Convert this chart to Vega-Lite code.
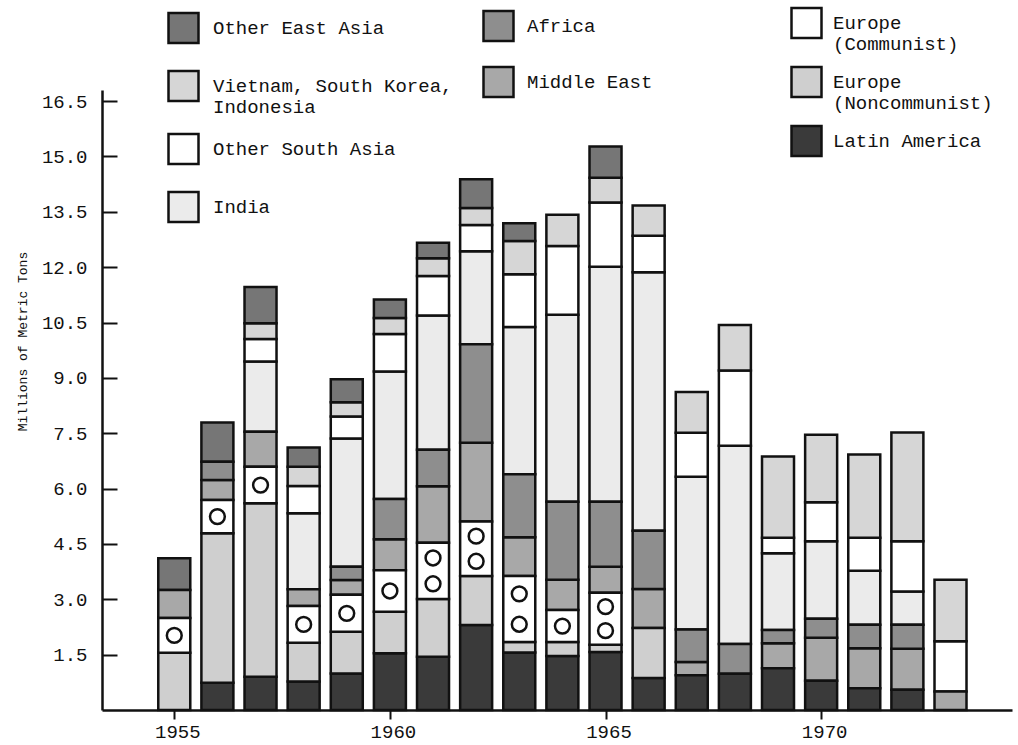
{
  "$schema": "https://vega.github.io/schema/vega-lite/v6.json",
  "width": 910,
  "height": 620,
  "autosize": {"type": "none"},
  "padding": {"left": 102, "top": 90, "right": 6, "bottom": 35},
  "background": "white",
  "config": {
    "view": {"stroke": null},
    "font": "Liberation Mono",
    "axis": {"grid": false, "domainColor": "#111", "domainWidth": 2.5, "tickColor": "#111", "tickWidth": 2, "labelFont": "Liberation Mono", "labelFontSize": 19, "labelColor": "#111", "titleFont": "Liberation Mono", "titleFontWeight": "normal", "titleColor": "#111"},
    "legend": {"labelFont": "Liberation Mono", "labelFontSize": 19, "labelColor": "#111", "labelLimit": 400}
  },
  "data": {"values": [
    {"year": 1955, "region": "Europe (Noncommunist)", "value": 1.55},
    {"year": 1955, "region": "Europe (Communist)", "value": 0.94},
    {"year": 1955, "region": "Middle East", "value": 0.76},
    {"year": 1955, "region": "Other East Asia", "value": 0.86},
    {"year": 1956, "region": "Latin America", "value": 0.74},
    {"year": 1956, "region": "Europe (Noncommunist)", "value": 4.05},
    {"year": 1956, "region": "Europe (Communist)", "value": 0.90},
    {"year": 1956, "region": "Middle East", "value": 0.54},
    {"year": 1956, "region": "Africa", "value": 0.50},
    {"year": 1956, "region": "Other East Asia", "value": 1.06},
    {"year": 1957, "region": "Latin America", "value": 0.90},
    {"year": 1957, "region": "Europe (Noncommunist)", "value": 4.70},
    {"year": 1957, "region": "Europe (Communist)", "value": 0.99},
    {"year": 1957, "region": "Middle East", "value": 0.95},
    {"year": 1957, "region": "India", "value": 1.90},
    {"year": 1957, "region": "Other South Asia", "value": 0.61},
    {"year": 1957, "region": "Vietnam, South Korea, Indonesia", "value": 0.43},
    {"year": 1957, "region": "Other East Asia", "value": 0.98},
    {"year": 1958, "region": "Latin America", "value": 0.77},
    {"year": 1958, "region": "Europe (Noncommunist)", "value": 1.05},
    {"year": 1958, "region": "Europe (Communist)", "value": 1.00},
    {"year": 1958, "region": "Middle East", "value": 0.45},
    {"year": 1958, "region": "India", "value": 2.06},
    {"year": 1958, "region": "Other South Asia", "value": 0.74},
    {"year": 1958, "region": "Vietnam, South Korea, Indonesia", "value": 0.52},
    {"year": 1958, "region": "Other East Asia", "value": 0.52},
    {"year": 1959, "region": "Latin America", "value": 0.99},
    {"year": 1959, "region": "Europe (Noncommunist)", "value": 1.13},
    {"year": 1959, "region": "Europe (Communist)", "value": 1.00},
    {"year": 1959, "region": "Middle East", "value": 0.40},
    {"year": 1959, "region": "Africa", "value": 0.36},
    {"year": 1959, "region": "India", "value": 3.48},
    {"year": 1959, "region": "Other South Asia", "value": 0.59},
    {"year": 1959, "region": "Vietnam, South Korea, Indonesia", "value": 0.39},
    {"year": 1959, "region": "Other East Asia", "value": 0.62},
    {"year": 1960, "region": "Latin America", "value": 1.54},
    {"year": 1960, "region": "Europe (Noncommunist)", "value": 1.12},
    {"year": 1960, "region": "Europe (Communist)", "value": 1.13},
    {"year": 1960, "region": "Middle East", "value": 0.84},
    {"year": 1960, "region": "Africa", "value": 1.09},
    {"year": 1960, "region": "India", "value": 3.45},
    {"year": 1960, "region": "Other South Asia", "value": 1.02},
    {"year": 1960, "region": "Vietnam, South Korea, Indonesia", "value": 0.43},
    {"year": 1960, "region": "Other East Asia", "value": 0.50},
    {"year": 1961, "region": "Latin America", "value": 1.44},
    {"year": 1961, "region": "Europe (Noncommunist)", "value": 1.57},
    {"year": 1961, "region": "Europe (Communist)", "value": 1.52},
    {"year": 1961, "region": "Middle East", "value": 1.53},
    {"year": 1961, "region": "Africa", "value": 0.99},
    {"year": 1961, "region": "India", "value": 3.64},
    {"year": 1961, "region": "Other South Asia", "value": 1.07},
    {"year": 1961, "region": "Vietnam, South Korea, Indonesia", "value": 0.48},
    {"year": 1961, "region": "Other East Asia", "value": 0.42},
    {"year": 1962, "region": "Latin America", "value": 2.30},
    {"year": 1962, "region": "Europe (Noncommunist)", "value": 1.33},
    {"year": 1962, "region": "Europe (Communist)", "value": 1.48},
    {"year": 1962, "region": "Middle East", "value": 2.13},
    {"year": 1962, "region": "Africa", "value": 2.67},
    {"year": 1962, "region": "India", "value": 2.52},
    {"year": 1962, "region": "Other South Asia", "value": 0.71},
    {"year": 1962, "region": "Vietnam, South Korea, Indonesia", "value": 0.46},
    {"year": 1962, "region": "Other East Asia", "value": 0.78},
    {"year": 1963, "region": "Latin America", "value": 1.56},
    {"year": 1963, "region": "Europe (Noncommunist)", "value": 0.28},
    {"year": 1963, "region": "Europe (Communist)", "value": 1.79},
    {"year": 1963, "region": "Middle East", "value": 1.05},
    {"year": 1963, "region": "Africa", "value": 1.71},
    {"year": 1963, "region": "India", "value": 3.99},
    {"year": 1963, "region": "Other South Asia", "value": 1.43},
    {"year": 1963, "region": "Vietnam, South Korea, Indonesia", "value": 0.90},
    {"year": 1963, "region": "Other East Asia", "value": 0.48},
    {"year": 1964, "region": "Latin America", "value": 1.46},
    {"year": 1964, "region": "Europe (Noncommunist)", "value": 0.38},
    {"year": 1964, "region": "Europe (Communist)", "value": 0.87},
    {"year": 1964, "region": "Middle East", "value": 0.82},
    {"year": 1964, "region": "Africa", "value": 2.11},
    {"year": 1964, "region": "India", "value": 5.07},
    {"year": 1964, "region": "Other South Asia", "value": 1.86},
    {"year": 1964, "region": "Vietnam, South Korea, Indonesia", "value": 0.85},
    {"year": 1965, "region": "Latin America", "value": 1.57},
    {"year": 1965, "region": "Europe (Noncommunist)", "value": 0.20},
    {"year": 1965, "region": "Europe (Communist)", "value": 1.41},
    {"year": 1965, "region": "Middle East", "value": 0.70},
    {"year": 1965, "region": "Africa", "value": 1.76},
    {"year": 1965, "region": "India", "value": 6.37},
    {"year": 1965, "region": "Other South Asia", "value": 1.74},
    {"year": 1965, "region": "Vietnam, South Korea, Indonesia", "value": 0.67},
    {"year": 1965, "region": "Other East Asia", "value": 0.85},
    {"year": 1966, "region": "Latin America", "value": 0.87},
    {"year": 1966, "region": "Europe (Noncommunist)", "value": 1.35},
    {"year": 1966, "region": "Middle East", "value": 1.06},
    {"year": 1966, "region": "Africa", "value": 1.58},
    {"year": 1966, "region": "India", "value": 7.00},
    {"year": 1966, "region": "Other South Asia", "value": 0.99},
    {"year": 1966, "region": "Vietnam, South Korea, Indonesia", "value": 0.82},
    {"year": 1967, "region": "Latin America", "value": 0.94},
    {"year": 1967, "region": "Middle East", "value": 0.36},
    {"year": 1967, "region": "Africa", "value": 0.88},
    {"year": 1967, "region": "India", "value": 4.14},
    {"year": 1967, "region": "Other South Asia", "value": 1.19},
    {"year": 1967, "region": "Vietnam, South Korea, Indonesia", "value": 1.11},
    {"year": 1968, "region": "Latin America", "value": 0.98},
    {"year": 1968, "region": "Africa", "value": 0.81},
    {"year": 1968, "region": "India", "value": 5.37},
    {"year": 1968, "region": "Other South Asia", "value": 2.04},
    {"year": 1968, "region": "Vietnam, South Korea, Indonesia", "value": 1.23},
    {"year": 1969, "region": "Latin America", "value": 1.13},
    {"year": 1969, "region": "Middle East", "value": 0.68},
    {"year": 1969, "region": "Africa", "value": 0.36},
    {"year": 1969, "region": "India", "value": 2.08},
    {"year": 1969, "region": "Other South Asia", "value": 0.42},
    {"year": 1969, "region": "Vietnam, South Korea, Indonesia", "value": 2.20},
    {"year": 1970, "region": "Latin America", "value": 0.79},
    {"year": 1970, "region": "Middle East", "value": 1.17},
    {"year": 1970, "region": "Africa", "value": 0.51},
    {"year": 1970, "region": "India", "value": 2.10},
    {"year": 1970, "region": "Other South Asia", "value": 1.06},
    {"year": 1970, "region": "Vietnam, South Korea, Indonesia", "value": 1.83},
    {"year": 1971, "region": "Latin America", "value": 0.59},
    {"year": 1971, "region": "Middle East", "value": 1.08},
    {"year": 1971, "region": "Africa", "value": 0.64},
    {"year": 1971, "region": "India", "value": 1.46},
    {"year": 1971, "region": "Other South Asia", "value": 0.90},
    {"year": 1971, "region": "Vietnam, South Korea, Indonesia", "value": 2.25},
    {"year": 1972, "region": "Latin America", "value": 0.55},
    {"year": 1972, "region": "Middle East", "value": 1.11},
    {"year": 1972, "region": "Africa", "value": 0.65},
    {"year": 1972, "region": "India", "value": 0.90},
    {"year": 1972, "region": "Other South Asia", "value": 1.36},
    {"year": 1972, "region": "Vietnam, South Korea, Indonesia", "value": 2.95},
    {"year": 1973, "region": "Middle East", "value": 0.50},
    {"year": 1973, "region": "Other South Asia", "value": 1.36},
    {"year": 1973, "region": "Vietnam, South Korea, Indonesia", "value": 1.67}
  ]},
  "transform": [
    {"calculate": "indexof(['Latin America','Europe (Noncommunist)','Europe (Communist)','Middle East','Africa','India','Other South Asia','Vietnam, South Korea, Indonesia','Other East Asia'], datum.region)", "as": "ord"},
    {"stack": "value", "groupby": ["year"], "sort": [{"field": "ord", "order": "ascending"}], "as": ["y0", "y1"]}
  ],
  "encoding": {
    "x": {"field": "year", "type": "quantitative",
      "scale": {"domain": [1953.44, 1974.31], "nice": false, "zero": false},
      "axis": {"values": [1955, 1960, 1965, 1970], "format": "d", "title": null, "tickSize": 9, "labelPadding": 3, "labelOffset": 3}},
    "y": {"field": "y1", "type": "quantitative", "scale": {"domain": [0, 16.8], "nice": false},
      "axis": {"values": [1.5, 3, 4.5, 6, 7.5, 9, 10.5, 12, 13.5, 15, 16.5], "format": ".1f", "tickSize": -15, "labelPadding": 30,
        "title": "Millions of Metric Tons", "titleFontSize": 13, "titleX": -80, "titleY": 251, "titleAlign": "center", "titleBaseline": "middle", "titleAngle": -90}},
    "y2": {"field": "y0"}
  },
  "layer": [
    {
      "transform": [{"filter": {"field": "region", "oneOf": ["Other East Asia", "Vietnam, South Korea, Indonesia", "Other South Asia", "India"]}}],
      "mark": {"type": "bar", "size": 32, "stroke": "#111", "strokeWidth": 2.5},
      "encoding": {
        "color": {"field": "region", "type": "nominal",
          "scale": {"domain": ["Other East Asia", "Vietnam, South Korea, Indonesia", "Other South Asia", "India"], "range": ["#767676", "#d6d6d6", "#ffffff", "#ebebeb"]},
          "legend": {"orient": "none", "legendX": 65, "legendY": -88.5, "title": null, "symbolType": "square", "symbolSize": 900, "symbolStrokeColor": "#111", "symbolStrokeWidth": 2.5, "symbolOpacity": 1, "labelOffset": 13, "clipHeight": 53, "rowPadding": 5,
            "labelExpr": "datum.label === 'Vietnam, South Korea, Indonesia' ? ['Vietnam, South Korea,', 'Indonesia'] : datum.label"}}
      }
    },
    {
      "transform": [{"filter": {"field": "region", "oneOf": ["Africa", "Middle East"]}}],
      "mark": {"type": "bar", "size": 32, "stroke": "#111", "strokeWidth": 2.5},
      "encoding": {
        "color": {"field": "region", "type": "nominal",
          "scale": {"domain": ["Africa", "Middle East"], "range": ["#8e8e8e", "#a8a8a8"]},
          "legend": {"orient": "none", "legendX": 380, "legendY": -86, "title": null, "symbolType": "square", "symbolSize": 900, "symbolStrokeColor": "#111", "symbolStrokeWidth": 2.5, "symbolOpacity": 1, "labelOffset": 12, "clipHeight": 44, "rowPadding": 12}}
      }
    },
    {
      "transform": [{"filter": {"field": "region", "oneOf": ["Europe (Communist)", "Europe (Noncommunist)", "Latin America"]}}],
      "mark": {"type": "bar", "size": 32, "stroke": "#111", "strokeWidth": 2.5},
      "encoding": {
        "color": {"field": "region", "type": "nominal",
          "scale": {"domain": ["Europe (Communist)", "Europe (Noncommunist)", "Latin America"], "range": ["#ffffff", "#cfcfcf", "#3a3a3a"]},
          "legend": {"orient": "none", "legendX": 688, "legendY": -93.5, "title": null, "symbolType": "square", "symbolSize": 900, "symbolStrokeColor": "#111", "symbolStrokeWidth": 2.5, "symbolOpacity": 1, "labelOffset": 10, "clipHeight": 53, "rowPadding": 1,
            "labelExpr": "datum.label === 'Europe (Communist)' ? ['Europe', '(Communist)'] : datum.label === 'Europe (Noncommunist)' ? ['Europe', '(Noncommunist)'] : datum.label"}}
      }
    },
    {
      "transform": [
        {"filter": "datum.region === 'Europe (Communist)'"},
        {"calculate": "datum.value > 1.3 ? [0.27, 0.73] : [0.5]", "as": "pos"},
        {"flatten": ["pos"]},
        {"calculate": "datum.y0 + datum.pos * (datum.y1 - datum.y0)", "as": "cy"}
      ],
      "mark": {"type": "point", "shape": "circle", "filled": false, "stroke": "#111", "strokeWidth": 2.5, "size": 220, "opacity": 1},
      "encoding": {
        "y": {"field": "cy", "type": "quantitative", "scale": {"domain": [0, 16.8], "nice": false},
          "axis": {"values": [1.5, 3, 4.5, 6, 7.5, 9, 10.5, 12, 13.5, 15, 16.5], "format": ".1f", "tickSize": -15, "labelPadding": 30,
            "title": "Millions of Metric Tons", "titleFontSize": 13, "titleX": -80, "titleY": 251, "titleAlign": "center", "titleBaseline": "middle", "titleAngle": -90}},
        "y2": null
      }
    }
  ],
  "resolve": {"scale": {"color": "independent"}}
}
